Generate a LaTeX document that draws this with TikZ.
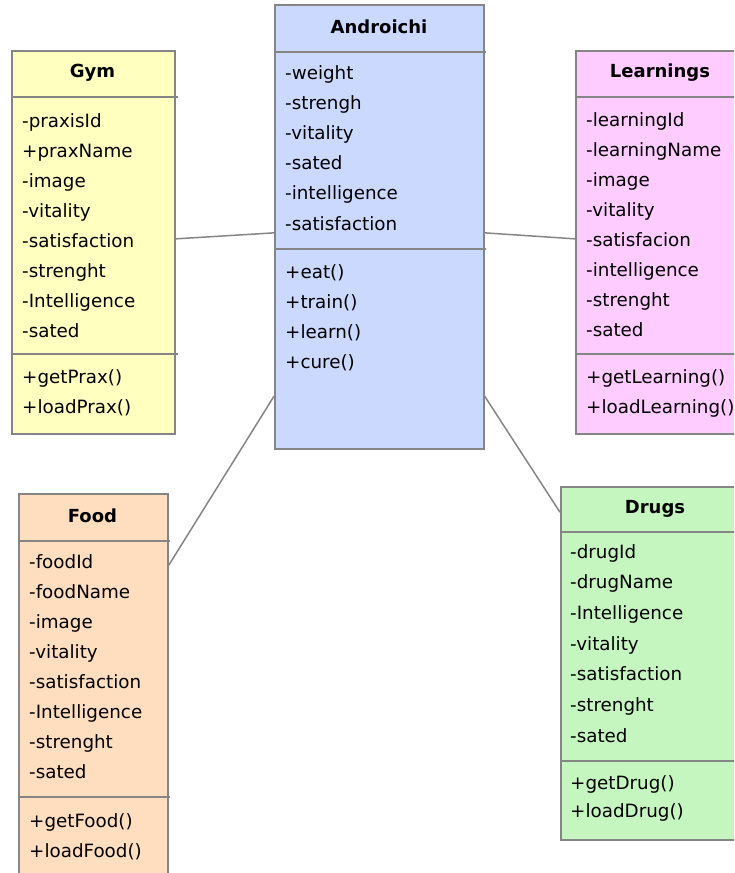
\documentclass[tikz,border=0pt]{standalone}
\usepackage{fontspec}
\setmainfont{DejaVu Sans}
\usetikzlibrary{calc}
\definecolor{rimgray}{HTML}{858585}
\definecolor{gymfill}{HTML}{FFFFC0}
\definecolor{androfill}{HTML}{CCD9FF}
\definecolor{learnfill}{HTML}{FFCCFF}
\definecolor{foodfill}{HTML}{FFDEC0}
\definecolor{drugfill}{HTML}{C6F6C0}

\begin{document}
\begin{tikzpicture}[x=1pt, y=-1pt,
  cls/.style={draw=rimgray, line width=1.7pt, anchor=north west, inner sep=0pt},
  clsname/.style={font=\bfseries\fontsize{18}{20}\selectfont, inner sep=0pt},
  member/.style={anchor=west, inner sep=0pt, text height=12pt, text depth=0pt,
    font=\fontsize{18.3}{20}\selectfont},
  sep/.style={draw=rimgray, line width=1.7pt},
  assoc/.style={draw=rimgray, line width=1.5pt}]

  \useasboundingbox (0,0) rectangle (734,873);
  \clip (0,0) rectangle (734,873);

  %% class boxes
  \node[cls, fill=gymfill,   minimum width=163, minimum height=383] (gym)   at (11,50)  {};
  \node[cls, fill=androfill, minimum width=209, minimum height=444] (andro) at (274,4)  {};
  \node[cls, fill=learnfill, minimum width=170, minimum height=383] (learn) at (575,50) {};
  \node[cls, fill=foodfill,  minimum width=149, minimum height=400] (food)  at (18,493) {};
  \node[cls, fill=drugfill,  minimum width=190, minimum height=353] (drugs) at (560,486) {};

  %% names
  \node[clsname] (gymname)   at (92.5,73)  {Gym};
  \node[clsname] (androname) at (379,27)   {Androichi};
  \node[clsname] (learnname) at (660,73)   {Learnings};
  \node[clsname] (foodname)  at (92.5,516) {Food};
  \node[clsname] (drugsname) at (655,509)  {Drugs};

  %% compartment lines (a little past the right side)
  \draw[sep] (gym.west |- 0,97)    -- (178,97);
  \draw[sep] (gym.west |- 0,354)   -- (178,354);
  \draw[sep] (andro.west |- 0,52)  -- (486,52);
  \draw[sep] (andro.west |- 0,249) -- (486,249);
  \draw[sep] (learn.west |- 0,97)  -- (750,97);
  \draw[sep] (learn.west |- 0,354) -- (750,354);
  \draw[sep] (food.west |- 0,541)  -- (170,541);
  \draw[sep] (food.west |- 0,797)  -- (170,797);
  \draw[sep] (drugs.west |- 0,532) -- (750,532);
  \draw[sep] (drugs.west |- 0,761) -- (750,761);

  %% Gym
  \foreach \m [count=\i] in {-praxisId,+praxName,-image,-vitality,-satisfaction,-strenght,-Intelligence,-sated}
    \node[member] (gymattr\i) at (22,121+30*\i-30) {\m};
  \foreach \m [count=\i] in {+getPrax(),+loadPrax()}
    \node[member] (gymop\i) at (22,377+30*\i-30) {\m};

  %% Androichi
  \foreach \m [count=\i] in {-weight,-strengh,-vitality,-sated,-intelligence,-satisfaction}
    \node[member] (androattr\i) at (285,73+30.2*\i-30.2) {\m};
  \foreach \m [count=\i] in {+eat(),+train(),+learn(),+cure()}
    \node[member] (androop\i) at (285,272+30*\i-30) {\m};

  %% Learnings
  \foreach \m [count=\i] in {-learningId,-learningName,-image,-vitality,-satisfacion,-intelligence,-strenght,-sated}
    \node[member] (learnattr\i) at (586,120+30*\i-30) {\m};
  \foreach \m [count=\i] in {+getLearning(),+loadLearning()}
    \node[member] (learnop\i) at (586,377+30*\i-30) {\m};

  %% Food
  \foreach \m [count=\i] in {-foodId,-foodName,-image,-vitality,-satisfaction,-Intelligence,-strenght,-sated}
    \node[member] (foodattr\i) at (29,562+30*\i-30) {\m};
  \foreach \m [count=\i] in {+getFood(),+loadFood()}
    \node[member] (foodop\i) at (29,821+30*\i-30) {\m};

  %% Drugs
  \foreach \m [count=\i] in {-drugId,-drugName,-Intelligence,-vitality,-satisfaction,-strenght,-sated}
    \node[member] (drugsattr\i) at (570,552+30.7*\i-30.7) {\m};
  \foreach \m [count=\i] in {+getDrug(),+loadDrug()}
    \node[member] (drugsop\i) at (570,783+28*\i-28) {\m};

  %% associations
  \draw[assoc] ([yshift=3.5pt]gym.east) -- ([yshift=-6pt]andro.west);    %% Gym-Androichi
  \draw[assoc] ([yshift=-6pt]andro.east) -- ([yshift=3.5pt]learn.west);  %% Androichi-Learnings
  \draw[assoc] ($(andro.north west)!0.88!(andro.south west)$) -- ($(food.north east)!0.18!(food.south east)$); %% Androichi-Food
  \draw[assoc] ($(andro.north east)!0.88!(andro.south east)$) -- ($(drugs.north west)!0.074!(drugs.south west)$); %% Androichi-Drugs
\end{tikzpicture}
\end{document}
